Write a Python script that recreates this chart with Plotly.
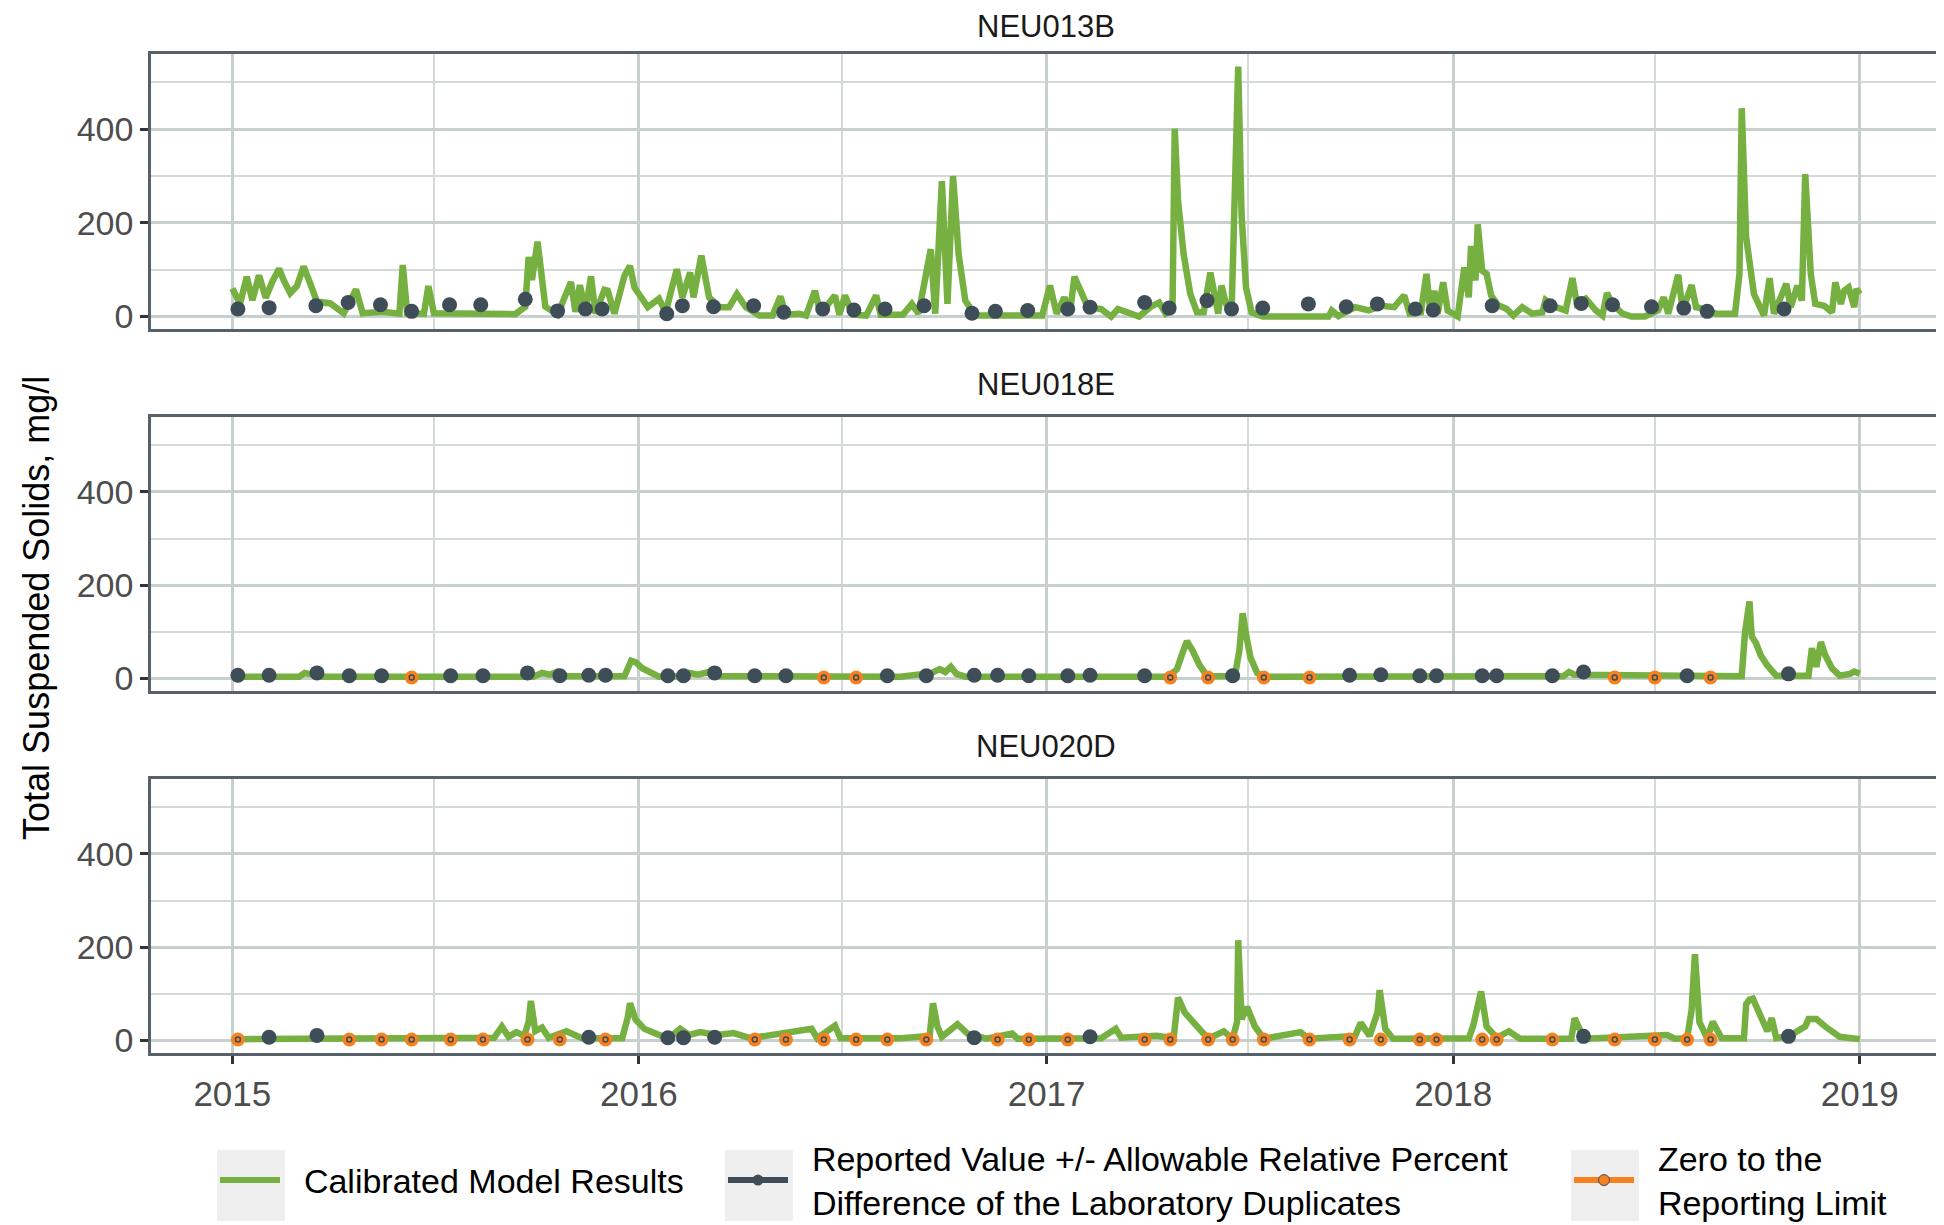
import pandas as pd
import plotly.graph_objects as go
from plotly.subplots import make_subplots

# ---- data (days since 2015-01-01, values in mg/l) ----
START = pd.Timestamp("2015-01-01")
STATIONS = ["NEU013B", "NEU018E", "NEU020D"]

# NEU013B calibrated model (breakpoints)
model_013b_days = [
    0, 7, 13, 18, 24, 30, 36, 42, 46, 52,
    58, 64, 70, 76, 88, 100, 111, 117, 135, 150,
    153, 157, 172, 176, 181, 220, 254, 263, 266, 269,
    274, 281, 292, 304, 308, 312, 317, 322, 326, 334,
    337, 343, 352, 357, 361, 373, 383, 389, 399, 404,
    411, 414, 421, 428, 437, 446, 453, 461, 473, 485,
    492, 497, 509, 515, 523, 528, 541, 545, 550, 557,
    569, 578, 582, 602, 610, 616, 627, 631, 637, 642,
    647, 652, 658, 667, 727, 734, 740, 747, 752, 756,
    762, 768, 780, 789, 795, 814, 824, 832, 838, 844,
    846, 849, 854, 860, 866, 872, 878, 882, 885, 888,
    892, 897, 903, 906, 910, 915, 925, 984, 987, 993,
    1008, 1020, 1032, 1043, 1052, 1057, 1067, 1072, 1075, 1079,
    1082, 1087, 1091, 1100, 1106, 1110, 1112, 1116, 1118, 1122,
    1126, 1130, 1136, 1144, 1150, 1158, 1167, 1176, 1179, 1188,
    1197, 1203, 1207, 1215, 1224, 1230, 1234, 1239, 1248, 1256,
    1268, 1280, 1285, 1289, 1298, 1302, 1310, 1314, 1322, 1332,
    1349, 1353, 1355, 1359, 1366, 1375, 1380, 1384, 1395, 1399,
    1405, 1409, 1412, 1417, 1421, 1429, 1436, 1439, 1444, 1447,
    1451, 1456, 1458, 1461,
]
model_013b_vals = [
    60, 28, 85, 35, 88, 40, 75, 102, 78, 50,
    65, 107, 70, 32, 28, 7, 58, 7, 10, 6,
    110, 7, 6, 65, 7, 5, 5, 21, 127, 78,
    160, 21, 4, 74, 10, 67, 12, 86, 6, 57,
    55, 6, 87, 108, 62, 20, 38, 9, 101, 41,
    94, 41, 130, 41, 20, 20, 48, 20, 2, 2,
    43, 4, 6, 2, 55, 6, 45, 4, 45, 4,
    2, 45, 4, 4, 27, 6, 144, 6, 289, 27,
    300, 133, 34, 2, 2, 66, 6, 41, 9, 85,
    55, 20, 16, 0, 16, 0, 20, 30, 6, 13,
    401, 247, 133, 48, 9, 9, 94, 34, 6, 66,
    27, 6, 534, 218, 62, 9, 0, 0, 13, 1,
    20, 13, 23, 20, 45, 6, 9, 91, 20, 55,
    6, 73, 13, 0, 105, 41, 151, 77, 197, 98,
    91, 45, 25, 16, 2, 20, 6, 9, 35, 20,
    13, 82, 27, 38, 13, 2, 50, 27, 6, 0,
    0, 13, 41, 6, 89, 13, 67, 20, 16, 6,
    6, 91, 445, 169, 48, 2, 82, 6, 70, 20,
    66, 34, 304, 91, 27, 23, 9, 73, 27, 55,
    62, 20, 59, 48,
]

model_018e_days = [
    0, 60, 65, 72, 80, 270, 278, 285, 292, 300,
    352, 358, 362, 368, 375, 383, 400, 410, 418, 428,
    436, 600, 628, 635, 640, 645, 650, 658, 840, 848,
    853, 857, 862, 868, 875, 900, 904, 907, 910, 914,
    920, 926, 1195, 1200, 1205, 1355, 1358, 1362, 1364, 1368,
    1372, 1378, 1386, 1415, 1418, 1422, 1426, 1430, 1436, 1443,
    1452, 1456, 1461,
]
model_018e_vals = [
    4, 4, 12, 8, 4, 4, 12, 8, 15, 5,
    5, 38, 35, 22, 12, 4, 5, 12, 8, 14,
    5, 4, 12, 20, 14, 25, 10, 4, 4, 20,
    55, 80, 60, 30, 5, 5, 60, 140, 95, 45,
    12, 4, 5, 14, 8, 5, 100, 165, 90, 75,
    50, 28, 6, 6, 65, 25, 78, 50, 22, 6,
    10, 15, 10,
]

model_020d_days = [
    0, 100, 200, 235, 242, 248, 255, 262, 266, 268,
    272, 278, 284, 300, 314, 350, 355, 357, 362, 370,
    380, 391, 402, 410, 420, 435, 450, 465, 520, 525,
    541, 546, 600, 626, 629, 633, 637, 645, 651, 660,
    677, 700, 705, 780, 793, 798, 830, 845, 849, 855,
    866, 876, 890, 898, 902, 903, 906, 911, 918, 926,
    959, 966, 1008, 1013, 1021, 1028, 1030, 1035, 1042, 1110,
    1114, 1117, 1121, 1126, 1135, 1146, 1156, 1202, 1205, 1210,
    1215, 1288, 1295, 1306, 1310, 1313, 1317, 1324, 1329, 1337,
    1357, 1359, 1362, 1365, 1371, 1378, 1382, 1386, 1398, 1412,
    1415, 1422, 1430, 1443, 1461,
]
model_020d_vals = [
    3, 3, 5, 6, 30, 8, 18, 10, 40, 85,
    20, 28, 6, 20, 5, 5, 50, 80, 45, 25,
    15, 4, 25, 12, 18, 12, 16, 5, 25, 5,
    32, 5, 5, 10, 80, 30, 8, 25, 35, 15,
    4, 15, 4, 5, 25, 6, 10, 5, 92, 60,
    30, 4, 20, 4, 40, 215, 46, 72, 30, 4,
    18, 4, 10, 38, 10, 60, 108, 25, 4, 5,
    32, 60, 105, 30, 6, 20, 4, 4, 48, 22,
    4, 12, 4, 5, 65, 185, 40, 5, 40, 5,
    5, 78, 88, 90, 58, 20, 48, 5, 10, 30,
    46, 46, 30, 8, 3,
]

# grab samples: R = reported value, Z = zero to the reporting limit
obs_013b_days = [
    5, 33, 75, 104, 133, 161, 195, 223, 263, 292,
    317, 332, 390, 404, 432, 468, 495, 530, 558, 586,
    621, 664, 685, 714, 750, 770, 819, 841, 875, 897,
    925, 966, 1000, 1028, 1062, 1078, 1131, 1183, 1211, 1239,
    1274, 1303, 1324, 1393,
]
obs_013b_vals = [
    16, 19, 23, 30, 25, 11, 25, 25, 37, 12,
    16, 16, 6, 23, 21, 23, 9, 16, 14, 16,
    23, 7, 11, 13, 16, 20, 30, 18, 34, 16,
    18, 27, 21, 27, 16, 14, 23, 23, 28, 25,
    21, 18, 11, 16,
]
obs_013b_flag = ["R"] * len(obs_013b_days)

obs_days = [
    5, 33, 76, 105, 134, 161, 196, 225, 265, 294,
    320, 335, 391, 405, 433, 469, 497, 531, 560, 588,
    623, 666, 687, 715, 750, 770, 819, 842, 876, 898,
    926, 967, 1003, 1031, 1066, 1081, 1122, 1135, 1185, 1213,
    1241, 1277, 1306, 1327, 1397,
]
obs_018e_vals = [
    7, 7, 12, 6, 6, 2, 6, 6, 12, 6,
    7, 7, 6, 6, 12, 6, 6, 2, 2, 6,
    6, 7, 7, 6, 6, 7, 6, 2, 2, 6,
    2, 2, 7, 8, 6, 6, 6, 6, 6, 14,
    2, 2, 6, 2, 10,
]
obs_018e_flag = [
    "R", "R", "R", "R", "R", "Z", "R", "R", "R", "R",
    "R", "R", "R", "R", "R", "R", "R", "Z", "Z", "R",
    "R", "R", "R", "R", "R", "R", "R", "Z", "Z", "R",
    "Z", "Z", "R", "R", "R", "R", "R", "R", "R", "R",
    "Z", "Z", "R", "Z", "R",
]
obs_020d_vals = [
    2, 7, 11, 2, 2, 2, 2, 2, 2, 2,
    7, 2, 6, 6, 7, 2, 2, 2, 2, 2,
    2, 6, 2, 2, 2, 8, 2, 2, 2, 2,
    2, 2, 2, 2, 2, 2, 2, 2, 2, 9,
    2, 2, 2, 2, 9,
]
obs_020d_flag = [
    "Z", "R", "R", "Z", "Z", "Z", "Z", "Z", "Z", "Z",
    "R", "Z", "R", "R", "R", "Z", "Z", "Z", "Z", "Z",
    "Z", "R", "Z", "Z", "Z", "R", "Z", "Z", "Z", "Z",
    "Z", "Z", "Z", "Z", "Z", "Z", "Z", "Z", "Z", "R",
    "Z", "Z", "Z", "Z", "R",
]

LEGEND_NAMES = [
    "Calibrated Model Results",
    "Reported Value +/- Allowable Relative Percent<br>Difference of the Laboratory Duplicates",
    "Zero to the<br>Reporting Limit",
]

# ---- style ----
GREEN = "#76B041"
SLATE = "#3F4D59"
ORANGE = "#F5821F"
GRID = "#C8D0CE"
GRID_MINOR = "#D3DAD8"
FRAME = "#56616A"
KEY_BG = "#EFEFEF"
FONT = "Liberation Sans, Arial, sans-serif"
PAD = "\u00a0\u00a0"  # small gap between legend key and text

# the page body adds an 8px margin, so the figure is 8px smaller each way
W, H = 1936, 1217
ML, MT = 143, 46
PLOT_W = 1789


def to_dates(days):
    return START + pd.to_timedelta(days, unit="D")


def px_to_paper(x_screen):
    return (x_screen - 8 - ML) / PLOT_W


panels = [
    (model_013b_days, model_013b_vals, obs_013b_days, obs_013b_vals, obs_013b_flag),
    (model_018e_days, model_018e_vals, obs_days, obs_018e_vals, obs_018e_flag),
    (model_020d_days, model_020d_vals, obs_days, obs_020d_vals, obs_020d_flag),
]

fig = make_subplots(rows=3, cols=1, shared_xaxes=True)

for row, (md, mv, od, ov, of) in enumerate(panels, start=1):
    assert len(md) == len(mv) and len(od) == len(ov) == len(of)
    fig.add_trace(
        go.Scatter(x=to_dates(md), y=mv, mode="lines",
                   line=dict(color=GREEN, width=6.5), showlegend=False, hoverinfo="skip"),
        row=row, col=1,
    )
    rep = [(d, v) for d, v, f in zip(od, ov, of) if f == "R"]
    zer = [(d, v) for d, v, f in zip(od, ov, of) if f == "Z"]
    if rep:
        fig.add_trace(
            go.Scatter(x=to_dates([d for d, _ in rep]), y=[v for _, v in rep], mode="markers",
                       marker=dict(color=SLATE, size=15), showlegend=False),
            row=row, col=1,
        )
    if zer:
        zx = to_dates([d for d, _ in zer])
        zy = [v for _, v in zer]
        fig.add_trace(
            go.Scatter(x=zx, y=zy, mode="markers",
                       marker=dict(color=ORANGE, size=14), showlegend=False),
            row=row, col=1,
        )
        fig.add_trace(
            go.Scatter(x=zx, y=zy, mode="markers",
                       marker=dict(symbol="circle-open", color=SLATE, size=5,
                                   line=dict(width=1.5)),
                       showlegend=False, hoverinfo="skip"),
            row=row, col=1,
        )

# legend-only entries, one legend each so they can sit on their key boxes
fig.add_trace(go.Scatter(x=[None], y=[None], mode="lines", name=PAD + LEGEND_NAMES[0],
                         line=dict(color=GREEN, width=6), legend="legend"), row=3, col=1)
fig.add_trace(go.Scatter(x=[None], y=[None], mode="lines+markers",
                         name=PAD + LEGEND_NAMES[1].replace("<br>", "<br>" + PAD),
                         line=dict(color=SLATE, width=6),
                         marker=dict(color=SLATE, size=11), legend="legend2"), row=3, col=1)
fig.add_trace(go.Scatter(x=[None], y=[None], mode="lines+markers",
                         name=PAD + LEGEND_NAMES[2].replace("<br>", "<br>" + PAD),
                         line=dict(color=ORANGE, width=6),
                         marker=dict(color=ORANGE, size=11,
                                     line=dict(color=SLATE, width=1)), legend="legend3"),
              row=3, col=1)

xcommon = dict(
    type="date",
    range=["2014-10-20", "2019-03-14"],
    tick0="2015-01-01", dtick="M12", tickformat="%Y",
    showgrid=True, gridcolor=GRID, gridwidth=3,
    minor=dict(tick0="2015-01-01", dtick="M6", showgrid=True,
               gridcolor=GRID_MINOR, gridwidth=1.8),
    showline=True, mirror=True, linecolor=FRAME, linewidth=2.5,
    zeroline=False, automargin=False,
)
ycommon = dict(
    range=[-26.7, 560.7],
    tickmode="array", tickvals=[0, 200, 400],
    showgrid=True, gridcolor=GRID, gridwidth=3,
    minor=dict(tickmode="array", tickvals=[100, 300, 500], showgrid=True,
               gridcolor=GRID_MINOR, gridwidth=1.8),
    showline=True, mirror=True, linecolor=FRAME, linewidth=2.5,
    zeroline=False, automargin=False,
    ticks="outside", ticklen=8, tickwidth=2.5, tickcolor="#333333",
    tickfont=dict(size=34, color="#4D4D4D", family=FONT),
)

domains = [[0.7247, 1.0], [0.3624, 0.6366], [0.0, 0.2743]]
for i in range(3):
    sfx = "" if i == 0 else str(i + 1)
    fig.layout["yaxis" + sfx].update(domain=domains[i], **ycommon)
    fig.layout["xaxis" + sfx].update(**xcommon)
    if i < 2:
        fig.layout["xaxis" + sfx].update(showticklabels=False, ticks="")
    else:
        fig.layout["xaxis" + sfx].update(
            ticks="outside", ticklen=8, tickwidth=2.5, tickcolor="#333333",
            tickfont=dict(size=35, color="#4D4D4D", family=FONT),
        )

strip_y = [1.028, 0.6697, 0.3073]
for name, y in zip(STATIONS, strip_y):
    fig.add_annotation(text=name, x=0.5, y=y, xref="paper", yref="paper",
                       showarrow=False, yanchor="middle", height=34,
                       font=dict(size=31, color="#1A1A1A", family=FONT))

fig.add_annotation(text="Total Suspended Solids, mg/l", x=-0.064, y=0.445,
                   xref="paper", yref="paper", showarrow=False, textangle=-90,
                   xanchor="center", yanchor="middle",
                   font=dict(size=36, color="#000000", family=FONT))

# grey legend key boxes (ggplot style)
key_x = [(217, 285), (725, 793), (1571, 1639)]
for x0, x1 in key_x:
    fig.add_shape(type="rect", xref="paper", yref="paper",
                  x0=px_to_paper(x0), x1=px_to_paper(x1),
                  y0=-0.1682, y1=-0.0971, fillcolor=KEY_BG, line=dict(width=0),
                  layer="below")

legend_style = dict(orientation="h", y=-0.1275, xanchor="left", yanchor="middle",
                    font=dict(size=34, color="#000000", family=FONT),
                    valign="middle", bgcolor="rgba(0,0,0,0)", itemwidth=60)

fig.update_layout(
    width=W, height=H,
    margin=dict(l=ML, r=4, t=MT, b=172, autoexpand=False),
    paper_bgcolor="white", plot_bgcolor="white",
    font=dict(family=FONT, color="#1A1A1A"),
    showlegend=True,
    legend=dict(x=px_to_paper(215), **legend_style),
    legend2=dict(x=px_to_paper(723), **legend_style),
    legend3=dict(x=px_to_paper(1569), **legend_style),
)

fig.write_html("out.html")
